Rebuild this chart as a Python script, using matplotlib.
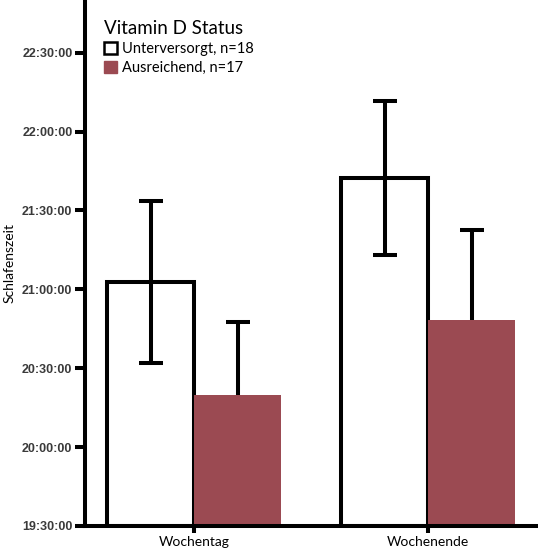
import matplotlib.pyplot as plt
import numpy as np
from matplotlib.patches import Patch
from matplotlib.ticker import FuncFormatter

# bedtime data (clock time, error in minutes)
groups = ["Wochentag", "Wochenende"]
series = ["Unterversorgt, n=18", "Ausreichend, n=17"]
unter_mean = ["21:02:40", "21:42:18"]
unter_err = [30.8, 29.3]
ausr_mean = ["20:20:00", "20:48:14"]
ausr_err = [27.5, 34.5]
ytick_labels = ["19:30:00", "20:00:00", "20:30:00", "21:00:00", "21:30:00", "22:00:00", "22:30:00"]


def to_min(s):
    h, m, sec = [int(v) for v in s.split(":")]
    return h * 60 + m + sec / 60.0


def fmt_time(v, pos=None):
    total = int(round(v * 60))
    h, rest = divmod(total, 3600)
    m, s = divmod(rest, 60)
    return "%02d:%02d:%02d" % (h, m, s)


u = np.array([to_min(s) for s in unter_mean])
a = np.array([to_min(s) for s in ausr_mean])
yt = [to_min(s) for s in ytick_labels]
base = yt[0]

red = "#9b4a52"
lw = 2.9
x = np.arange(len(groups))
w = 0.372

fig = plt.figure(figsize=(5.38, 5.53), dpi=100)
ax = fig.add_axes([85 / 538, 27 / 553, 1 - 85 / 538, 1 - 27 / 553])

ax.bar(x - w / 2, u - base, w, bottom=base, color="white", edgecolor="black",
       linewidth=lw, zorder=2)
ax.bar(x + w / 2, a - base, w, bottom=base, color=red, linewidth=0, zorder=2)

ax.errorbar(x - w / 2, u, yerr=unter_err, fmt="none", ecolor="black",
            elinewidth=lw, capsize=8.3, capthick=lw, zorder=3)
ax.errorbar(x + w / 2, a, yerr=ausr_err, fmt="none", ecolor="black",
            elinewidth=lw, capsize=8.3, capthick=lw, zorder=1)

ax.set_xlim(-0.466, 1.47)
ax.set_ylim(base, base + 526.7 / 79 * 30)
ax.set_yticks(yt)
ax.yaxis.set_major_formatter(FuncFormatter(fmt_time))
ax.set_xticks(x)
ax.set_xticklabels(groups, fontsize=10, family="Lato")

for t in ax.get_yticklabels():
    t.set_fontfamily("Liberation Sans")
    t.set_fontweight("bold")
    t.set_fontsize(9)
    t.set_color("#3a3a3a")

ax.tick_params(axis="y", length=7, width=lw, pad=2)
ax.tick_params(axis="x", length=5, width=lw, pad=2)
for side in ["top", "right"]:
    ax.spines[side].set_visible(False)
for side in ["left", "bottom"]:
    ax.spines[side].set_linewidth(lw)

ax.set_ylabel("Schlafenszeit", fontsize=10, family="Lato", labelpad=5)

handles = [Patch(facecolor="white", edgecolor="black", linewidth=1.8),
           Patch(facecolor=red, edgecolor=red)]
leg = ax.legend(handles, series, title="Vitamin D Status", loc="upper left",
                bbox_to_anchor=(0.01, 0.99), frameon=False,
                prop={"family": "Lato", "size": 10.5},
                handlelength=0.9, handleheight=0.9, handletextpad=0.3,
                labelspacing=0.35, borderaxespad=0.6)
leg.get_title().set_fontfamily("Lato")
leg.get_title().set_fontsize(13.5)
leg._legend_box.align = "left"

fig.savefig("out.png", dpi=100)
